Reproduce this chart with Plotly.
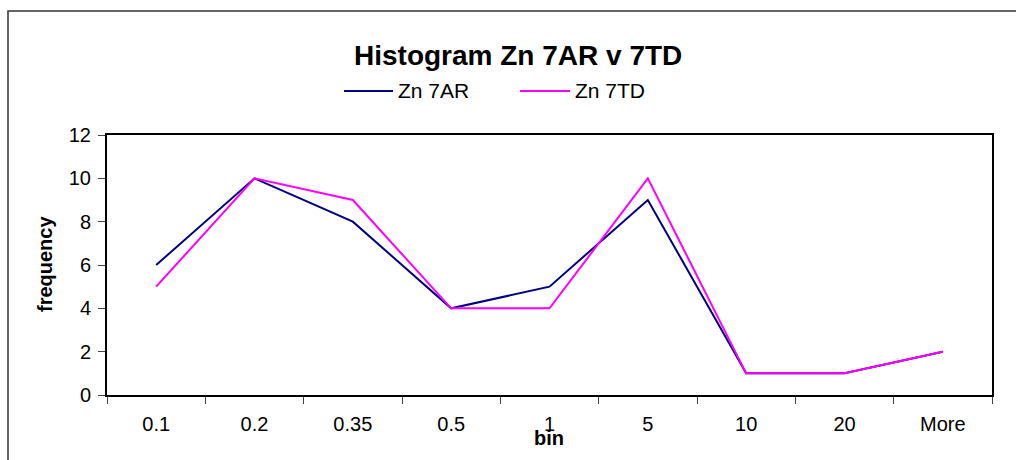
import plotly.graph_objects as go

# Histogram bins and frequencies for the two Zn samples
bins = ["0.1", "0.2", "0.35", "0.5", "1", "5", "10", "20", "More"]
zn_7ar = [6, 10, 8, 4, 5, 9, 1, 1, 2]
zn_7td = [5, 10, 9, 4, 4, 10, 1, 1, 2]
series_names = ["Zn 7AR", "Zn 7TD"]
series_colors = ["#000080", "#FF00FF"]

W, H = 1016, 460
L, R, T, B = 107, 24, 135, 65  # plot-area margins in pixels
FONT = "Liberation Sans, Arial, sans-serif"


def px_x(x):
    return (x - L) / (W - L - R)


def px_y(y):
    return 1 - (y - T) / (H - T - B)


fig = go.Figure()
for name, color, values in zip(series_names, series_colors, [zn_7ar, zn_7td]):
    fig.add_trace(go.Scatter(x=bins, y=values, mode="lines", name=name,
                             line=dict(color=color, width=2)))

axis_common = dict(showline=True, linecolor="black", linewidth=2, mirror=True,
                   showgrid=False, zeroline=False, ticks="outside",
                   tickcolor="#444", tickwidth=1, ticklen=7,
                   tickfont=dict(family=FONT, size=20, color="black"))

fig.update_xaxes(type="category", range=[-0.5, len(bins) - 0.5],
                 tickson="boundaries", ticklabelstandoff=10, **axis_common)
fig.update_yaxes(range=[0, 12], dtick=2, ticklabelstandoff=3, **axis_common)

# Legend drawn as line samples with labels beside them
legend_shapes, legend_notes = [], []
for (x0, x1), name, color in zip([(344, 393), (520, 570)], series_names, series_colors):
    legend_shapes.append(dict(type="line", xref="paper", yref="paper",
                              x0=px_x(x0), x1=px_x(x1), y0=px_y(91), y1=px_y(91),
                              line=dict(color=color, width=2)))
    legend_notes.append(dict(text=name, xref="paper", yref="paper",
                             x=px_x(x1 + 3), y=px_y(91), xanchor="left",
                             yanchor="middle", showarrow=False,
                             font=dict(family=FONT, size=21, color="black")))

fig.update_layout(
    width=W, height=H,
    margin=dict(l=L, r=R, t=T, b=B),
    paper_bgcolor="white", plot_bgcolor="white",
    showlegend=False,
    shapes=[dict(type="rect", xref="paper", yref="paper",
                 x0=px_x(8), x1=px_x(1030), y0=px_y(11), y1=px_y(480),
                 line=dict(color="#333", width=1.5), layer="below")] + legend_shapes,
    annotations=[
        dict(text="<b>Histogram Zn 7AR v 7TD</b>", xref="paper", yref="paper",
             x=px_x(518), y=px_y(55), xanchor="center", yanchor="middle",
             showarrow=False, font=dict(family=FONT, size=28, color="black")),
        dict(text="<b>frequency</b>", xref="paper", yref="paper",
             x=px_x(45), y=px_y(264), xanchor="center", yanchor="middle",
             textangle=-90, showarrow=False,
             font=dict(family=FONT, size=20, color="black")),
        dict(text="<b>bin</b>", xref="paper", yref="paper",
             x=px_x(549), y=px_y(438), xanchor="center", yanchor="middle",
             showarrow=False, font=dict(family=FONT, size=20, color="black")),
    ] + legend_notes,
)

fig.write_html("out.html")
